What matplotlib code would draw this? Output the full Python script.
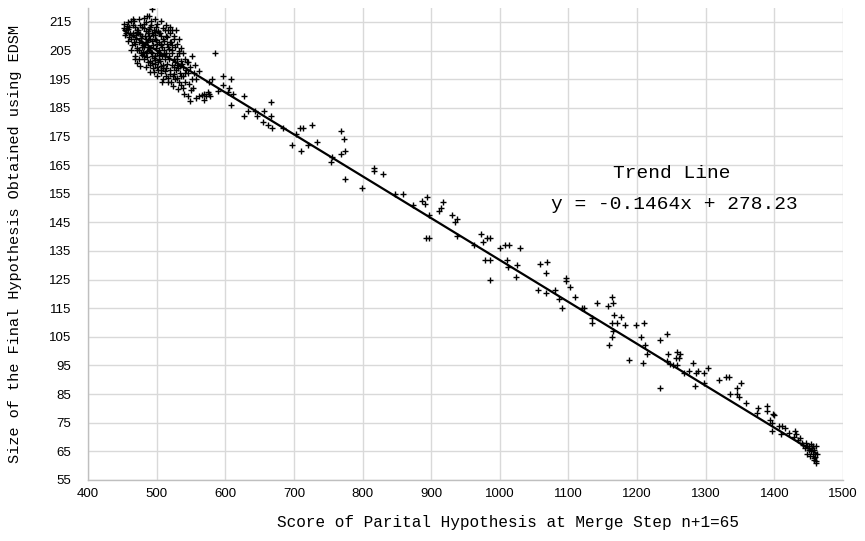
import matplotlib
matplotlib.use("Agg")
import matplotlib.pyplot as plt

# ---- data: dense cluster (score, size) ----
cluster_pts = [
    (453,214.2),(455,212.1),(457,213.6),(454,210.4),(458,208.3),(456,211.2),(459,215.0),(452,213.0),
    (460,213.1),(462,215.2),(461,211.0),(463,209.2),(464,207.1),(459,212.4),(465,210.6),(462,205.3),(466,214.0),(460,209.8),
    (467,215.3),(468,213.2),(466,211.1),(470,209.0),(469,207.2),(471,205.1),(468,203.0),(472,212.3),(470,210.4),(467,208.1),(471,206.0),(469,202.2),(466,216.1),
    (474,216.2),(476,214.1),(473,212.2),(478,210.1),(475,208.0),(479,206.2),(477,204.1),(474,202.0),(476,199.8),(479,213.2),(473,211.1),(477,209.3),(480,207.0),(475,205.2),(478,203.3),(472,200.5),
    (482,216.4),(485,215.1),(481,213.0),(487,211.2),(484,209.1),(483,207.3),(486,205.0),(482,203.2),(488,201.1),(485,199.3),(481,214.2),(487,212.0),(483,210.2),(486,208.1),(488,206.3),(484,204.0),(481,202.1),(486,217.2),
    (489,217.0),(492,215.3),(490,213.1),(494,211.0),(491,209.2),(495,207.1),(489,205.3),(493,203.0),(490,201.2),(495,199.1),(492,214.0),(496,212.2),(489,210.1),(493,208.3),(491,206.0),(494,204.2),(496,202.3),(490,200.0),(494,219.5),(491,197.5),
    (497,216.1),(500,214.2),(502,212.0),(498,210.3),(503,208.1),(499,206.0),(501,204.2),(504,202.1),(497,200.3),(502,198.1),(500,196.2),(499,213.3),(503,211.1),(497,209.0),(501,207.3),(504,205.1),(498,203.2),(502,201.0),(500,199.2),(496,197.6),
    (506,215.2),(509,213.0),(505,211.3),(510,209.1),(507,207.0),(511,205.2),(508,203.1),(505,201.3),(510,199.0),(507,197.2),(509,195.1),(512,212.1),(506,210.0),(511,208.2),(508,206.1),(505,204.0),(512,202.2),(509,200.1),(506,198.3),(508,194.0),
    (514,214.0),(517,212.1),(513,210.2),(519,208.0),(516,206.2),(514,204.1),(518,202.0),(515,200.2),(520,198.1),(513,196.3),(517,194.2),(519,211.0),(515,207.2),(518,203.1),(514,199.0),(516,195.3),(520,213.2),
    (522,212.2),(525,210.0),(521,208.1),(527,206.3),(523,204.0),(526,202.2),(522,200.0),(528,198.1),(524,196.2),(521,194.1),(526,209.1),(523,205.2),(527,201.1),(525,197.0),(528,212.3),(524,192.8),
    (530,207.2),(533,205.0),(529,203.1),(535,201.2),(531,199.0),(534,197.1),(530,195.3),(536,193.1),(532,204.2),(529,200.0),(535,196.0),(533,209.0),(531,191.5),
    (538,204.1),(541,202.0),(537,200.2),(543,198.1),(539,196.0),(542,194.2),(538,192.1),(540,190.0),(544,201.1),(541,197.2),(536,206.0),
    (546,201.0),(549,199.2),(545,197.1),(551,195.0),(547,193.2),(550,191.1),(546,189.0),(552,203.0),
    (554,197.2),(557,195.0),(553,192.1),(558,188.3),(556,200.0),
    (585,204.0),(548,187.3),(566,189.6),(572,189.2),(575,190.5),(569,187.6),
    (478,207.6),(484,211.7),(488,208.8),(492,204.6),(495,210.5),(499,208.7),(503,203.6),(506,207.4),(511,203.7),(515,209.6),
    (518,205.6),(522,206.9),(526,199.4),(530,202.2),(534,199.8),(480,204.6),(486,202.6),(493,200.7),(498,201.6),(507,199.6),
    (512,197.8),(519,196.7),(527,195.2),(533,194.1),(539,199.4),(471,211.6),(476,210.8),(482,206.4),(489,212.6),(497,211.4),
]

# ---- data: sparse middle section (score, size) ----
middle_pts = [
    (562,198),(580,195),(576,194),(596,196),(609,195),(597,193),(590,191),(606,192),(604,190.5),(611,190),
    (562,189),(569,190),(576,189.7),(578,189),(608,186),(628,189),(666,187),(633,184),(628,182),(644,184),
    (646,182),(657,184),(655,180),(666,182),(663,179),(668,178),(684,178),(703,176),(709,178),(713,178),
    (727,179),(697,172),(711,170),(721,172),(734,173),(756,168),(754,166),(768,177),(773,174),(774,170),
    (769,169),(774,160),(799,157),(816,164),(816,163),(830,162),
    (848,155),(859,155),(874,151),(887,152.4),(891,151.5),(894,154),(917,152),(914,150),(912,149),(897,147.4),
    (930,147.4),(938,146),(934,145),(892,139.5),(897,139.5),(937,140.3),(962,137),(972,141),(975,138.3),(982,139.4),
    (986,139.4),(978,132),(985,132),(986,125),(1000,136),(1007,137),(1013,137),(1030,136),(1010,132),(1012,129.4),
    (1025,130),(1023,126),(1058,130.3),(1069,131.2),(1068,127.4),(1056,121.5),(1068,120.3),(1080,121.5),(1086,118.3),(1091,115),
    (1096,124.4),(1097,125.4),(1102,122.3),(1109,119),(1120,115),
    (1122,115),(1141,117),(1135,111.5),(1135,110),(1157,115.7),(1164,119),(1165,117),(1166,112.8),(1164,110),(1171,110),
    (1176,112),(1183,109),(1165,107),(1164,105),(1159,102),(1198,109),(1210,110),(1205,105),(1211,102),(1214,99),
    (1188,97),(1208,96),(1233,104),(1244,106),(1233,87),(1245,99),(1244,96.6),(1248,95.4),(1258,99.7),(1256,97.7),
    (1261,97.7),(1263,99),(1252,95),(1258,95),(1268,92.2),(1275,93),(1281,96),(1286,92.2),(1288,93),(1284,88),
    (1298,92.2),(1304,94),(1298,89),(1320,90),(1330,91),(1334,91),(1352,89),(1345,87),(1335,85),(1345,85),
    (1348,84),(1358,82),(1376,80),(1374,78.5),(1389,81),(1389,79),(1398,78),(1394,76),
]

# ---- data: tail cluster (score, size) ----
tail_pts = [
    (1399,77.6),(1397,75),(1397,72),(1406,74),(1411,74),(1416,73),(1409,71),(1428,70),(1432,71),(1435,69),
    (1440,68),(1442,67.3),(1447,64),(1448,66.7),(1451,67),(1456,67),(1460,67),(1450,65.6),(1453,65),(1456,64),
    (1458,62.7),(1460,61.6),(1461,61),(1457,65.6),(1455,66),(1462,64),(1444,66),(1438,69.5),(1452,63.5),(1459,63),
    (1446,68),(1454,67.5),(1430,72),(1421,71.5),(1457,62),
]

trend_slope = -0.1464
trend_intercept = 278.23
trend_title = "Trend Line"
trend_label = "y = -0.1464x + 278.23"

x_ticks = [400, 500, 600, 700, 800, 900, 1000, 1100, 1200, 1300, 1400, 1500]
y_ticks = [55, 65, 75, 85, 95, 105, 115, 125, 135, 145, 155, 165, 175, 185, 195, 205, 215]

x_label = "Score of Parital Hypothesis at Merge Step n+1=65"
y_label = "Size of the Final Hypothesis Obtained using EDSM"

# ---- plot ----
all_pts = cluster_pts + middle_pts + tail_pts
xs = [p[0] for p in all_pts]
ys = [p[1] for p in all_pts]

fig = plt.figure(figsize=(8.65, 5.41), dpi=100)
ax = fig.add_axes([0.1017, 0.1128, 0.8729, 0.8730])

ax.set_axisbelow(True)
ax.grid(True, color="#d9d9d9", linewidth=1.0)
ax.scatter(xs, ys, marker="+", s=20, c="black", linewidths=1.0, zorder=3)

xmin, xmax = min(xs), max(xs)
ax.plot([xmin, xmax], [trend_slope * xmin + trend_intercept, trend_slope * xmax + trend_intercept],
        color="black", linewidth=1.6, zorder=4)

ax.set_xlim(400, 1500)
ax.set_ylim(55, 220)
ax.set_xticks(x_ticks)
ax.set_yticks(y_ticks)

for s in ["top", "right"]:
    ax.spines[s].set_visible(False)
for s in ["left", "bottom"]:
    ax.spines[s].set_color("#bfbfbf")
    ax.spines[s].set_linewidth(1.0)

ax.tick_params(axis="both", length=0, labelsize=9.5)
ax.tick_params(axis="y", pad=12)
ax.tick_params(axis="x", pad=6)
for lab in ax.get_xticklabels() + ax.get_yticklabels():
    lab.set_fontfamily("Liberation Sans")

mono = "Liberation Mono"
ax.set_xlabel(x_label, fontsize=11.5, family=mono)
ax.set_ylabel(y_label, fontsize=11, family=mono)
ax.xaxis.set_label_coords(0.556, -0.075)
ax.yaxis.set_label_coords(-0.088, 0.5)

ax.text(1251, 161.9, trend_title, ha="center", va="center", fontsize=14, family=mono)
ax.text(1254, 151.4, trend_label, ha="center", va="center", fontsize=14, family=mono)

fig.savefig("out.png", dpi=100)
